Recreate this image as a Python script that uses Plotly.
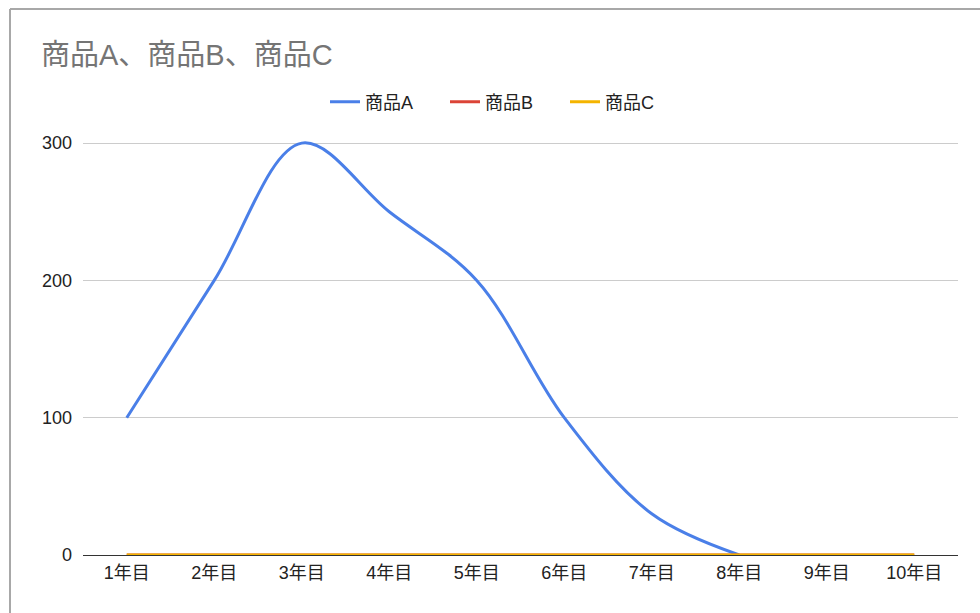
import plotly.graph_objects as go

categories = ["1年目", "2年目", "3年目", "4年目", "5年目", "6年目", "7年目", "8年目", "9年目", "10年目"]
series_a = [100, 200, 300, 250, 200, 100, 30, 0, None, None]
series_b = [0, 0, 0, 0, 0, 0, 0, 0, 0, 0]
series_c = [0, 0, 0, 0, 0, 0, 0, 0, 0, 0]
names = ["商品A", "商品B", "商品C"]
colors = ["#4a7fe8", "#db4437", "#f4b400"]
y_ticks = [0, 100, 200, 300]

W, H = 980, 613
L, R, T, B = 83, 22, 139, 58
pw, ph = W - L - R, H - T - B

def px_x(x):
    return (x - L) / pw

def px_y(y):
    return (H - B - y) / ph

fig = go.Figure()
for name, vals, col in zip(names, [series_a, series_b, series_c], colors):
    fig.add_trace(go.Scatter(
        x=categories, y=vals, name=name, mode="lines",
        line=dict(color=col, width=3, shape="spline", smoothing=1.0),
    ))

font_family = "Liberation Sans, Arial, Noto Sans CJK JP, sans-serif"

fig.update_layout(
    width=W, height=H,
    margin=dict(l=L, r=R, t=T, b=B),
    paper_bgcolor="white", plot_bgcolor="white",
    font=dict(family=font_family, size=18, color="#222222"),
    title=dict(text="商品A、商品B、商品C", x=41 / W, xanchor="left",
               y=1 - 55 / H, yanchor="middle",
               font=dict(size=29, color="#757575", family=font_family)),
    legend=dict(orientation="h", x=px_x(505), xanchor="center", y=px_y(102), yanchor="middle",
                font=dict(size=18, color="#222222"), bgcolor="rgba(0,0,0,0)",
                itemwidth=30, tracegroupgap=0, entrywidth=75, entrywidthmode="pixels"),
    showlegend=True,
    xaxis=dict(type="category", range=[-0.5, 9.5], showgrid=False, showline=False,
               ticks="", tickfont=dict(size=18, color="#222222"), ticklabelstandoff=5,
               fixedrange=True),
    yaxis=dict(range=[0, 303], tickvals=y_ticks, showgrid=True, gridcolor="#cccccc",
               gridwidth=1, zeroline=True, zerolinecolor="#333333", zerolinewidth=1,
               showline=False, ticks="", tickfont=dict(size=18, color="#222222"),
               ticklabelstandoff=10, fixedrange=True),
    shapes=[
        dict(type="line", xref="paper", yref="paper", x0=px_x(10), x1=px_x(980),
             y0=px_y(9), y1=px_y(9), line=dict(color="#a8a8a8", width=2)),
        dict(type="line", xref="paper", yref="paper", x0=px_x(10), x1=px_x(10),
             y0=px_y(9), y1=px_y(613), line=dict(color="#a8a8a8", width=2)),
    ],
)

fig.write_html("out.html")
